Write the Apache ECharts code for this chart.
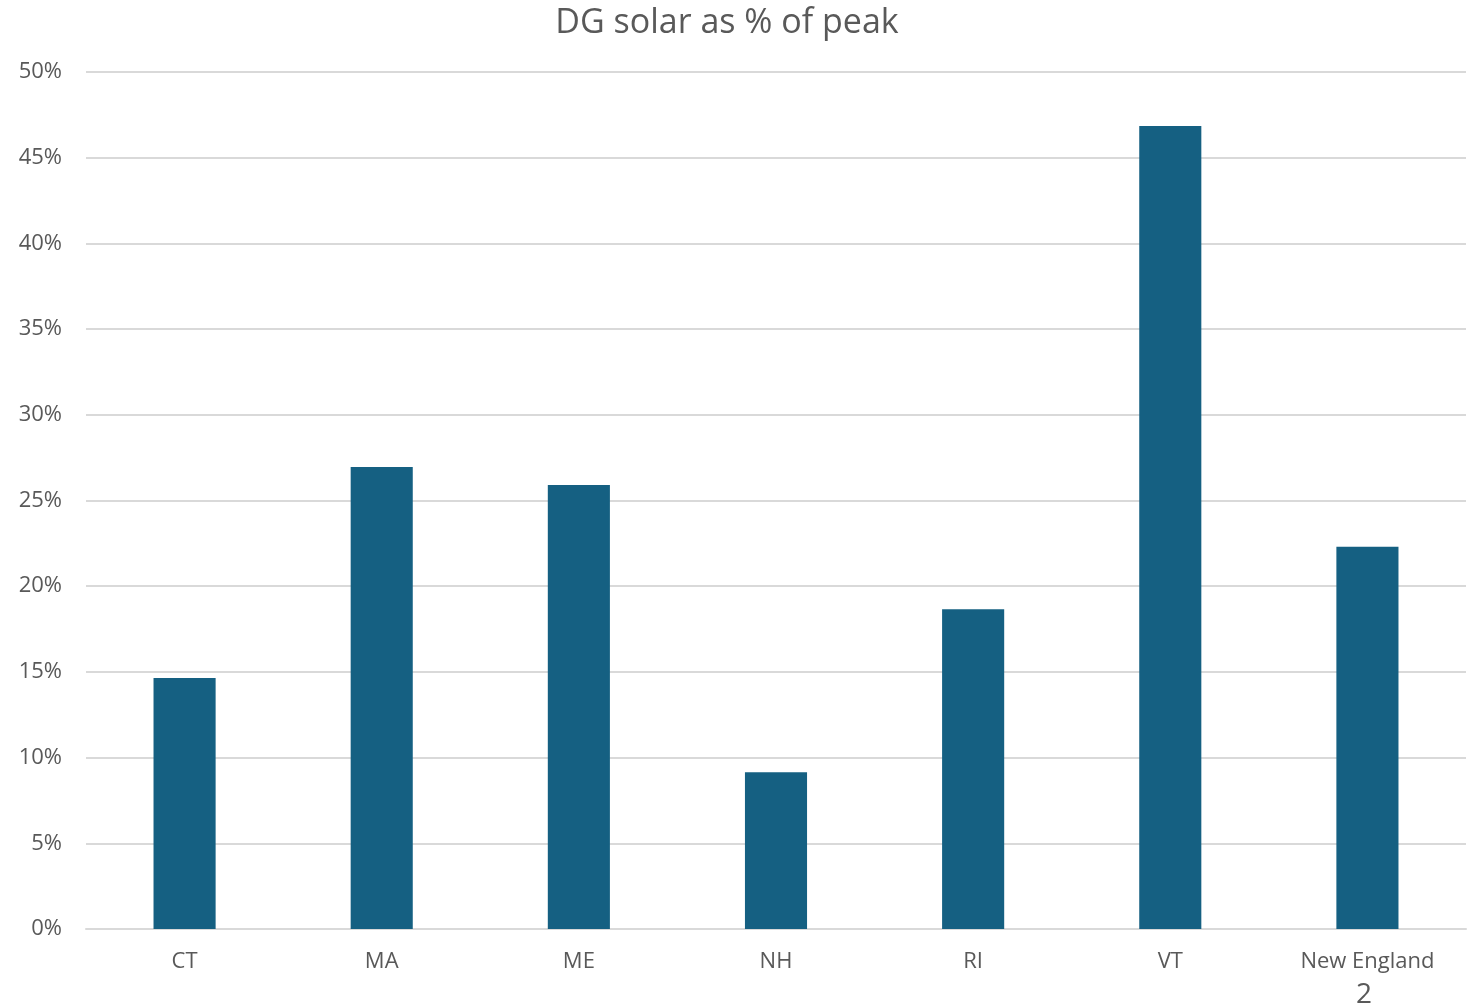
<!DOCTYPE html>
<html>
<head>
<meta charset="utf-8">
<script src="https://cdn.jsdelivr.net/npm/echarts@6/dist/echarts.min.js"></script>
<style>
  html, body { margin: 0; padding: 0; background: #fff; }
  #chart { width: 1476px; height: 1007px; }
</style>
</head>
<body>
<div id="chart"></div>
<script>
// Distributed-generation solar capacity as a share of peak load, by state
const states = ['CT', 'MA', 'ME', 'NH', 'RI', 'VT', 'New England'];
const dgSolarPct = [14.65, 26.95, 25.9, 9.15, 18.65, 46.85, 22.3];
const yTicks = { min: 0, max: 50, interval: 5 };
const pageNumber = '2';

const FONT = '"Open Sans", "Noto Sans", sans-serif';
const TEXT = '#595959';

const chart = echarts.init(document.getElementById('chart'), null, { renderer: 'canvas' });
chart.setOption({
  animation: false,
  backgroundColor: '#ffffff',
  title: {
    text: 'DG solar as % of peak',
    left: 722,
    textAlign: 'center',
    top: 1,
    textStyle: { color: TEXT, fontFamily: FONT, fontSize: 34, fontWeight: 'normal' }
  },
  grid: { left: 86, right: 10, top: 72, bottom: 78, containLabel: false },
  xAxis: {
    type: 'category',
    data: states,
    axisLine: { show: true, lineStyle: { color: '#d9d9d9', width: 2 } },
    axisTick: { show: false },
    axisLabel: { color: TEXT, fontFamily: FONT, fontSize: 22, margin: 22 }
  },
  yAxis: {
    type: 'value',
    min: yTicks.min,
    max: yTicks.max,
    interval: yTicks.interval,
    axisLine: { show: false },
    axisTick: { show: false },
    splitLine: { lineStyle: { color: '#d9d9d9', width: 2 } },
    axisLabel: {
      color: TEXT, fontFamily: FONT, fontSize: 22, margin: 24,
      formatter: v => v + '%'
    }
  },
  series: [{
    type: 'bar',
    data: dgSolarPct,
    barWidth: '31.5%',
    itemStyle: { color: '#156082' }
  }],
  graphic: [{
    type: 'text',
    x: 1364,
    y: 995,
    style: {
      text: pageNumber, fill: TEXT, font: '28px ' + FONT,
      textAlign: 'center', textVerticalAlign: 'middle'
    }
  }]
});
</script>
</body>
</html>
